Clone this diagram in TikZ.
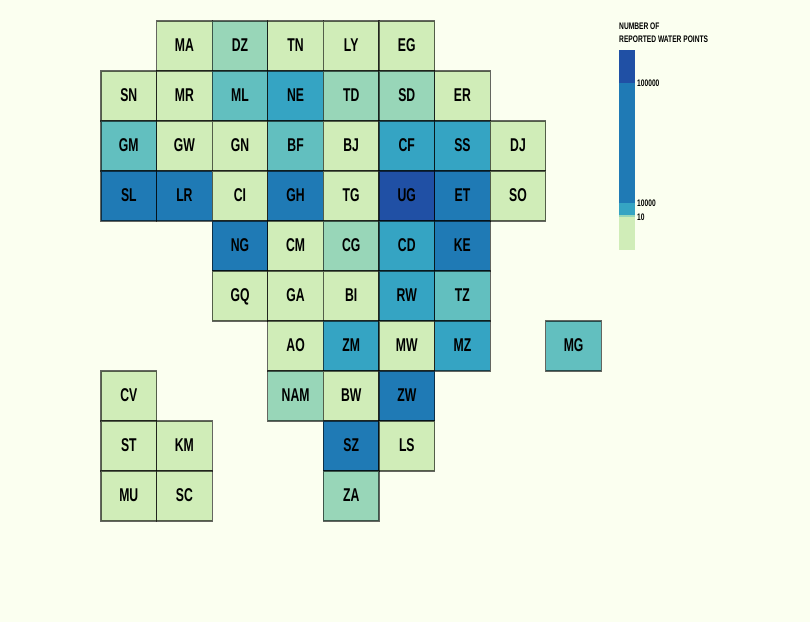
\documentclass[tikz,border=0pt]{standalone}
\usepackage{fontspec}
\usepackage{xcolor}
\usetikzlibrary{positioning}
\newfontfamily\tilefont[FakeStretch=0.66]{Liberation Sans Bold}
\newfontfamily\keyfont[FakeStretch=0.7]{Liberation Sans Bold}
\definecolor{pagebg}{RGB}{251, 255, 240}
\definecolor{waterA}{RGB}{208, 237, 184}
\definecolor{waterB}{RGB}{152, 214, 184}
\definecolor{waterC}{RGB}{98, 191, 191}
\definecolor{waterD}{RGB}{53, 164, 195}
\definecolor{waterE}{RGB}{31, 122, 181}
\definecolor{waterF}{RGB}{32, 80, 165}

\begin{document}
\begin{tikzpicture}[
    x=1pt, y=-1pt,
    tile/.style={rectangle, draw=black, draw opacity=0.6, line width=1.2pt, minimum width=55.6pt, minimum height=50pt, inner sep=0pt, outer sep=0pt, text height=13.3pt, text depth=2pt, font=\tilefont\fontsize{18.5}{18.5}\selectfont},
    levelA/.style={tile, fill=waterA},
    levelB/.style={tile, fill=waterB},
    levelC/.style={tile, fill=waterC},
    levelD/.style={tile, fill=waterD},
    levelE/.style={tile, fill=waterE},
    levelF/.style={tile, fill=waterF},
    keybar/.style={rectangle, minimum width=16pt, inner sep=0pt, outer sep=0pt},
    keytext/.style={anchor=west, inner sep=0pt, font=\keyfont\fontsize{9.5}{9.5}\selectfont}
]

\useasboundingbox (0,0) rectangle (810,622);
\fill[pagebg] (0,0) rectangle (810,622);

% row 1
\node[levelA] (MA) at (184.4,46) {MA};
\node[levelB] (DZ) at (240,46) {DZ};
\node[levelA] (TN) at (295.6,46) {TN};
\node[levelA] (LY) at (351.2,46) {LY};
\node[levelA] (EG) at (406.8,46) {EG};

% row 2
\node[levelA] (SN) at (128.8,96) {SN};
\node[levelA] (MR) at (184.4,96) {MR};
\node[levelC] (ML) at (240,96) {ML};
\node[levelD] (NE) at (295.6,96) {NE};
\node[levelB] (TD) at (351.2,96) {TD};
\node[levelB] (SD) at (406.8,96) {SD};
\node[levelA] (ER) at (462.4,96) {ER};

% row 3
\node[levelC] (GM) at (128.8,146) {GM};
\node[levelA] (GW) at (184.4,146) {GW};
\node[levelA] (GN) at (240,146) {GN};
\node[levelC] (BF) at (295.6,146) {BF};
\node[levelA] (BJ) at (351.2,146) {BJ};
\node[levelD] (CF) at (406.8,146) {CF};
\node[levelD] (SS) at (462.4,146) {SS};
\node[levelA] (DJ) at (518,146) {DJ};

% row 4
\node[levelE] (SL) at (128.8,196) {SL};
\node[levelE] (LR) at (184.4,196) {LR};
\node[levelA] (CI) at (240,196) {CI};
\node[levelE] (GH) at (295.6,196) {GH};
\node[levelA] (TG) at (351.2,196) {TG};
\node[levelF] (UG) at (406.8,196) {UG};
\node[levelE] (ET) at (462.4,196) {ET};
\node[levelA] (SO) at (518,196) {SO};

% row 5
\node[levelE] (NG) at (240,246) {NG};
\node[levelA] (CM) at (295.6,246) {CM};
\node[levelB] (CG) at (351.2,246) {CG};
\node[levelD] (CD) at (406.8,246) {CD};
\node[levelE] (KE) at (462.4,246) {KE};

% row 6
\node[levelA] (GQ) at (240,296) {GQ};
\node[levelA] (GA) at (295.6,296) {GA};
\node[levelA] (BI) at (351.2,296) {BI};
\node[levelD] (RW) at (406.8,296) {RW};
\node[levelC] (TZ) at (462.4,296) {TZ};

% row 7
\node[levelA] (AO) at (295.6,346) {AO};
\node[levelD] (ZM) at (351.2,346) {ZM};
\node[levelA] (MW) at (406.8,346) {MW};
\node[levelD] (MZ) at (462.4,346) {MZ};
\node[levelC] (MG) at (573.6,346) {MG};

% row 8
\node[levelA] (CV) at (128.8,396) {CV};
\node[levelB] (NAM) at (295.6,396) {NAM};
\node[levelA] (BW) at (351.2,396) {BW};
\node[levelE] (ZW) at (406.8,396) {ZW};

% row 9
\node[levelA] (ST) at (128.8,446) {ST};
\node[levelA] (KM) at (184.4,446) {KM};
\node[levelE] (SZ) at (351.2,446) {SZ};
\node[levelA] (LS) at (406.8,446) {LS};

% row 10
\node[levelA] (MU) at (128.8,496) {MU};
\node[levelA] (SC) at (184.4,496) {SC};
\node[levelB] (ZA) at (351.2,496) {ZA};

% legend
\node[keytext] (keytitleA) at (619,26.5) {NUMBER OF};
\node[keytext] (keytitleB) at (619,39.5) {REPORTED WATER POINTS};
\node[keybar, fill=waterF, minimum height=33pt] (barF) at (627,66.5) {};
\node[keybar, fill=waterE, minimum height=120pt] (barE) at (627,143) {};
\node[keybar, fill=waterD, minimum height=12pt] (barD) at (627,209) {};
\node[keybar, fill=waterB, minimum height=2pt] (barB) at (627,216) {};
\node[keybar, fill=waterA, minimum height=33pt] (barA) at (627,233.5) {};
\node[keytext] (tickC) at (637,83) {100000};
\node[keytext] (tickB) at (637,203) {10000};
\node[keytext] (tickA) at (637,217) {10};

\end{tikzpicture}
\end{document}
